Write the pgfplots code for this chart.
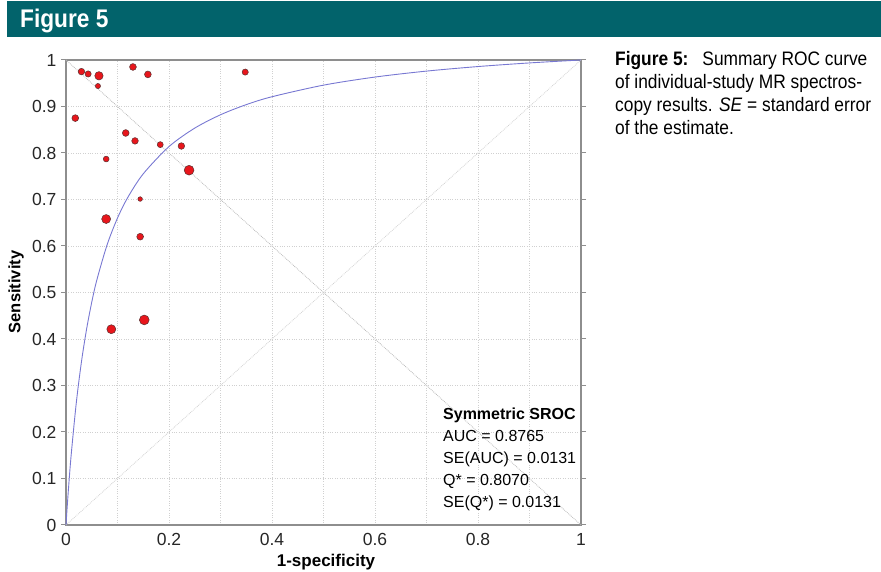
\documentclass[border=0pt]{standalone}
\usepackage{pgfplots}
\pgfplotsset{compat=1.18}
\usepackage{fontspec}
\setmainfont{Liberation Sans}
\newfontfamily\condfont[FakeStretch=0.89]{Liberation Sans}
\definecolor{headteal}{HTML}{02636B}
\definecolor{curveblue}{HTML}{7878D2}
\definecolor{ptred}{HTML}{E8161C}
\definecolor{ptedge}{HTML}{5A3030}
\definecolor{framegray}{HTML}{8E8E8E}
\definecolor{gridgray}{HTML}{D0D0D0}
\pgfplotstableread{
x y r
0.030 0.975 3.3
0.043 0.970 3.1
0.064 0.966 4.2
0.062 0.944 2.6
0.130 0.985 3.4
0.159 0.969 3.4
0.348 0.974 3.1
0.018 0.875 3.4
0.116 0.843 3.4
0.134 0.826 3.3
0.183 0.818 3.0
0.224 0.815 3.3
0.078 0.787 2.9
0.239 0.763 4.9
0.144 0.701 2.3
0.078 0.658 4.5
0.144 0.620 3.4
0.152 0.441 4.9
0.088 0.421 4.5
}\studies
\begin{document}
\begin{tikzpicture}[x=1pt,y=1pt]
\useasboundingbox (0pt,0pt) rectangle (881pt,572pt);
\fill[headteal] (7pt,535pt) rectangle (881pt,571pt);
\node[anchor=base west, inner sep=0pt, text=white, font=\condfont\bfseries\fontsize{25.5}{27}\selectfont] at (20pt,544pt) {Figure 5};
\begin{axis}[
  at={(66pt,47pt)}, anchor=south west,
  scale only axis, width=515pt, height=465pt,
  xmin=0, xmax=1, ymin=0, ymax=1,
  axis line style={framegray, line width=1.6pt},
  xtick={0,0.2,0.4,0.6,0.8,1},
  minor xtick={0.1,0.3,0.5,0.7,0.9},
  ytick={0,0.1,0.2,0.3,0.4,0.5,0.6,0.7,0.8,0.9,1},
  grid=both,
  major grid style={gridgray, dotted, line width=0.8pt},
  minor grid style={gridgray, dotted, line width=0.8pt},
  tick align=outside,
  xtick style={draw=none},
  minor tick length=0pt,
  ytick style={framegray, line width=1pt},
  major tick length=5pt,
  /pgf/number format/assume math mode=true,
  xticklabel style={font=\fontsize{17.5}{19}\selectfont, text=black!85, /pgf/number format/fixed, /pgf/number format/precision=1},
  yticklabel style={font=\fontsize{17.5}{19}\selectfont, text=black!85, /pgf/number format/fixed, /pgf/number format/precision=1, xshift=-1pt},
  clip=false,
]
\addplot[gray!55, densely dotted, line width=0.8pt] coordinates {(0,1) (1,0)};
\addplot[gray!35, densely dotted, line width=0.8pt] coordinates {(0,0) (1,1)};
\addplot[curveblue, line width=0.9pt, smooth] coordinates {
(0,0) (0.002,0.0338) (0.005,0.0807) (0.01,0.1501) (0.02,0.2629) (0.03,0.3509)
(0.04,0.4214) (0.05,0.4792) (0.06,0.5274) (0.08,0.6032) (0.10,0.6601)
(0.12,0.7045) (0.15,0.7552) (0.2,0.8138) (0.25,0.8535) (0.3,0.8822)
(0.35,0.9040) (0.4,0.9210) (0.5,0.9459) (0.6,0.9633) (0.7,0.9761)
(0.8,0.9859) (0.9,0.9937) (1,1)};
\addplot[only marks, mark=*, mark options={fill=ptred, draw=ptedge, line width=0.5pt},
  visualization depends on={\thisrow{r} \as \rad},
  scatter, scatter/use mapped color={fill=ptred, draw=ptedge},
  scatter/@pre marker code/.append style={/tikz/mark size=\rad}]
  table[x=x, y=y] {\studies};
\end{axis}
\begin{scope}[font=\fontsize{16}{18}\selectfont]
\node[anchor=base west, inner sep=0pt, font=\bfseries\fontsize{16}{18}\selectfont] at (443pt,152pt) {Symmetric SROC};
\node[anchor=base west, inner sep=0pt] at (443pt,130pt) {AUC = 0.8765};
\node[anchor=base west, inner sep=0pt] at (443pt,108pt) {SE(AUC) = 0.0131};
\node[anchor=base west, inner sep=0pt] at (443pt,86pt) {Q* = 0.8070};
\node[anchor=base west, inner sep=0pt] at (443pt,64pt) {SE(Q*) = 0.0131};
\end{scope}
\node[rotate=90, font=\bfseries\fontsize{16.5}{18}\selectfont] at (16pt,280pt) {Sensitivity};
\node[font=\bfseries\fontsize{17}{19}\selectfont] at (326pt,10pt) {1-specificity};
\begin{scope}[font=\condfont\fontsize{19.5}{21}\selectfont]
\node[anchor=base west, inner sep=0pt] at (615pt,506pt) {\textbf{Figure 5:}\hspace{14pt}Summary ROC curve};
\node[anchor=base west, inner sep=0pt] at (615pt,483pt) {of individual-study MR spectros-};
\node[anchor=base west, inner sep=0pt] at (615pt,460pt) {copy results. \textit{SE} = standard error};
\node[anchor=base west, inner sep=0pt] at (615pt,437pt) {of the estimate.};
\end{scope}
\end{tikzpicture}
\end{document}
